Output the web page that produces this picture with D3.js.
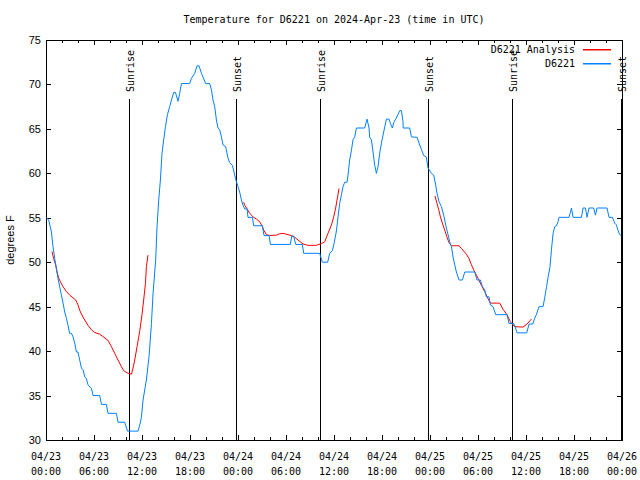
<!DOCTYPE html>
<html><head><meta charset="utf-8">
<script src="https://cdn.jsdelivr.net/npm/d3@7"></script>
<style>
html,body{margin:0;padding:0;background:#fff;}
svg{display:block;}
.mono{font-family:"DejaVu Sans Mono","Liberation Mono",monospace;font-size:10px;fill:#000;}
.sans{font-family:"Liberation Sans",Arial,sans-serif;font-size:11px;fill:#000;}
</style></head>
<body>
<script>
// Observed D6221 temperature (hours since 2024-04-23 00:00 UTC, degrees F)
const obsHours = [0.05,0.34,0.68,0.875,1.09,1.3,1.5,1.71,1.93,2.13,2.34,2.55,2.75,2.96,3.18,3.38,3.59,3.8,4.0,4.21,4.43,4.63,4.84,5.05,5.25,5.68,5.88,6.71,6.93,7.55,7.75,8.8,9.0,9.84,10.19,11.5,11.78,11.93,12.13,12.55,12.88,13.18,13.38,13.71,13.88,14.09,14.3,14.5,14.71,14.93,15.18,15.46,15.68,15.96,16.18,16.5,16.71,16.93,17.96,18.18,18.59,18.88,19.13,19.43,19.96,20.46,20.68,20.88,21.09,21.3,21.5,21.71,21.93,22.13,22.46,22.75,22.96,23.3,23.5,23.75,24.0,24.21,24.43,24.63,24.84,25.13,25.25,25.8,25.96,27.05,27.25,27.88,28.05,30.55,30.71,30.96,31.21,32.05,32.21,34.21,34.55,35.21,35.46,35.8,36.0,36.3,36.53,36.71,36.93,37.13,37.34,37.63,37.75,37.96,38.18,38.38,38.59,38.8,39.84,40.13,40.38,40.46,40.68,40.88,41.09,41.3,41.5,41.71,41.93,42.13,42.55,42.88,43.05,43.3,43.46,43.71,44.0,44.21,44.43,44.63,44.65,45.46,45.68,46.38,46.63,46.93,47.21,47.53,47.75,48.18,48.46,48.71,48.88,49.13,49.43,49.71,49.96,50.25,50.46,50.68,50.88,51.09,51.3,51.63,52.05,52.34,53.59,53.88,54.3,54.55,54.84,55.05,55.38,55.55,55.88,56.21,57.63,57.88,58.46,58.65,58.88,60.09,60.38,60.84,61.09,61.3,61.63,62.13,62.34,62.55,62.78,63.0,63.18,63.38,63.59,63.8,64.0,64.13,65.38,65.55,65.68,65.88,66.93,67.13,67.43,67.63,67.88,68.46,68.68,68.88,70.13,70.38,70.8,71.09,71.3,71.5,71.71,71.9];
const obsTemps = [55.0,54.75,53.4,51.75,50.4,49.3,48.2,47.25,46.3,45.4,44.4,43.7,42.9,42.0,42.0,41.6,40.9,39.9,39.9,39.0,38.1,37.9,37.1,36.9,36.2,35.8,35.0,35.0,34.0,34.0,33.0,33.0,32.0,32.0,31.0,31.0,31.9,32.6,34.5,36.75,39.4,43.1,46.5,50.25,54.0,57.0,59.25,62.25,63.75,65.25,66.6,67.5,68.25,69.1,69.1,68.1,69.0,70.1,70.1,70.7,71.25,72.1,72.1,71.25,70.1,70.1,69.4,68.25,67.5,66.0,65.1,64.9,64.1,63.2,63.0,61.7,61.2,60.9,60.15,59.2,58.5,57.9,57.0,56.4,56.0,56.0,55.05,55.05,54.1,54.1,53.0,53.0,52.0,52.0,52.95,52.95,52.0,52.0,51.0,51.0,50.0,50.0,51.0,51.3,52.1,53.5,55.3,56.6,57.6,58.5,59.0,59.0,59.8,61.5,62.6,63.8,64.1,65.1,65.1,66.1,65.1,64.05,63.75,62.4,60.9,60.0,60.75,62.25,63.4,64.3,66.1,66.1,65.6,65.1,65.7,66.1,66.6,67.05,67.05,65.8,65.1,65.1,64.1,64.05,63.4,62.7,62.0,61.85,60.6,60.0,59.8,58.7,57.75,56.8,56.25,55.3,54.2,53.1,52.3,51.75,50.6,49.7,48.9,48.0,48.0,48.9,48.9,48.0,48.0,47.25,46.9,46.1,46.1,45.2,45.0,44.1,44.1,43.1,43.1,42.7,42.05,42.05,43.05,43.05,43.7,44.1,45.0,45.0,46.0,47.15,48.4,49.5,51.4,53.2,54.0,54.1,54.55,55.05,55.05,55.6,56.1,55.05,55.05,56.1,56.1,55.05,56.1,56.1,55.3,56.1,56.1,55.05,55.05,54.4,54.2,53.6,53.1,53.0];

// D6221 Analysis (null = gap between segments)
const anaHours = [0.75,0.96,1.21,1.38,1.59,1.8,2.13,2.55,2.96,3.38,3.71,4.0,4.21,4.55,4.84,5.25,5.68,6.09,6.71,7.25,7.75,8.18,8.59,9.0,9.43,9.71,10.13,10.68,10.88,11.09,11.38,11.71,12.0,12.21,12.43,12.55,12.75,
  null,
  24.71,24.84,25.13,25.46,25.88,26.3,26.71,27.0,27.25,27.55,27.96,28.8,29.21,29.63,30.25,30.68,31.09,31.5,32.13,32.75,33.8,34.43,34.84,35.25,35.68,35.96,36.21,36.38,36.63,
  null,
  48.62,48.88,49.09,49.3,49.55,49.84,50.13,50.38,50.68,51.63,51.93,52.55,52.88,53.18,53.59,54.0,54.43,54.84,55.25,55.55,56.71,57.13,57.63,58.05,58.59,59.63,60.13,60.68];
const anaTemps = [51.2,50.4,49.7,48.9,48.2,47.8,47.25,46.7,46.3,46.0,45.75,45.2,44.6,43.95,43.5,42.9,42.4,42.1,41.9,41.55,41.2,40.5,39.75,39.0,38.25,37.8,37.55,37.4,38.1,39.0,40.5,42.2,44.1,45.75,47.6,49.5,50.8,
  null,
  56.75,56.4,56.0,55.5,55.1,54.85,54.55,54.1,53.55,53.1,53.0,53.05,53.2,53.25,53.1,53.0,52.8,52.5,52.05,51.9,51.9,52.1,52.3,53.25,54.2,55.1,56.1,57.0,58.3,
  null,
  57.45,56.6,55.9,55.1,54.4,53.6,52.8,52.2,51.85,51.85,51.55,50.9,50.4,49.7,48.9,48.2,47.4,46.7,45.9,45.4,45.4,44.7,44.1,43.3,42.75,42.7,43.05,43.6];

// Sun events (hours since 2024-04-23 00:00 UTC)
const sunLabels = ["Sunrise","Sunset","Sunrise","Sunset","Sunrise","Sunset"];
const sunHours = [10.4,23.8,34.25,47.75,58.25,71.85];

const yTicks = [30,35,40,45,50,55,60,65,70,75];
const seriesNames = ["D6221 Analysis","D6221"];
const seriesColors = ["#ff0000","#0080ff"];
const title = "Temperature for D6221 on 2024-Apr-23 (time in UTC)";
const yTitle = "degrees F";

const W = 640, H = 480;
const margin = {left:46, right:18, top:40, bottom:40};
const t0 = Date.UTC(2024,3,23,0,0);
const toDate = h => new Date(t0 + h*3600e3);

const svg = d3.select("body").append("svg").attr("width",W).attr("height",H);
const x = d3.scaleUtc().domain([toDate(0), toDate(72)]).range([margin.left, W-margin.right]);
const y = d3.scaleLinear().domain([30,75]).range([H-margin.bottom, margin.top]);

// frame
svg.append("rect").attr("x",margin.left+0.5).attr("y",margin.top+0.5)
  .attr("width",W-margin.left-margin.right).attr("height",H-margin.top-margin.bottom)
  .attr("fill","none").attr("stroke","#000").attr("shape-rendering","crispEdges");

// x ticks (major 6h, minor 2h) bottom + top mirrored
const majors = d3.utcHour.every(6).range(toDate(0), toDate(72.01));
const minors = d3.utcHour.every(2).range(toDate(0), toDate(72.01)).filter(d => d.getUTCHours()%6 !== 0);
const tickG = svg.append("g").attr("stroke","#000").attr("shape-rendering","crispEdges");
function xt(list, len){
  list.forEach(d=>{
    const px = Math.round(x(d))+0.5;
    tickG.append("line").attr("x1",px).attr("x2",px).attr("y1",y(30)).attr("y2",y(30)-len);
    tickG.append("line").attr("x1",px).attr("x2",px).attr("y1",y(75)).attr("y2",y(75)+len);
  });
}
xt(majors,5); xt(minors,3);
yTicks.forEach(v=>{
  const py = Math.round(y(v))+0.5;
  tickG.append("line").attr("x1",margin.left).attr("x2",margin.left+5).attr("y1",py).attr("y2",py);
  tickG.append("line").attr("x1",W-margin.right).attr("x2",W-margin.right-5).attr("y1",py).attr("y2",py);
});

// x labels
const fmtD = d3.utcFormat("%m/%d"), fmtT = d3.utcFormat("%H:%M");
majors.forEach(d=>{
  const t = svg.append("text").attr("class","mono").attr("text-anchor","middle");
  t.append("tspan").attr("x",x(d)).attr("y",460).text(fmtD(d));
  t.append("tspan").attr("x",x(d)).attr("y",475).text(fmtT(d));
});
// y labels
yTicks.forEach(v=>{
  svg.append("text").attr("class","sans").attr("text-anchor","end")
    .attr("x",41).attr("y",y(v)+4).text(v);
});
svg.append("text").attr("class","sans").attr("text-anchor","middle")
  .attr("transform",`translate(14,${(margin.top+H-margin.bottom)/2}) rotate(-90)`).text(yTitle);

// title
svg.append("text").attr("class","mono").attr("text-anchor","middle")
  .attr("x",(margin.left+W-margin.right)/2).attr("y",23).text(title);

// sun lines
sunHours.forEach((h,i)=>{
  const px = Math.round(x(toDate(h)))+0.5;
  svg.append("line").attr("x1",px).attr("x2",px).attr("y1",99).attr("y2",y(30))
    .attr("stroke","#000").attr("shape-rendering","crispEdges");
  svg.append("text").attr("class","mono").attr("text-anchor","start")
    .attr("transform",`translate(${px+4.5},92) rotate(-90)`).text(sunLabels[i]);
});

// series
const lineGen = d3.line().defined(d=>d[0]!==null && d[1]!==null)
  .x(d=>x(toDate(d[0]))).y(d=>y(d[1]));
const anaData = anaHours.map((h,i)=>[h,anaTemps[i]]);
const obsData = obsHours.map((h,i)=>[h,obsTemps[i]]);
svg.append("path").datum(anaData).attr("d",lineGen).attr("fill","none")
  .attr("stroke",seriesColors[0]).attr("stroke-width",1);
svg.append("path").datum(obsData).attr("d",lineGen).attr("fill","none")
  .attr("stroke",seriesColors[1]).attr("stroke-width",1);

// legend
seriesNames.forEach((n,i)=>{
  const ly = 49 + i*14;
  svg.append("text").attr("class","mono").attr("text-anchor","end")
    .attr("x",575).attr("y",ly+3.5).text(n);
  svg.append("rect").attr("x",583).attr("y",ly).attr("width",28).attr("height",1.5)
    .attr("fill",seriesColors[i]);
});
</script>
</body></html>
